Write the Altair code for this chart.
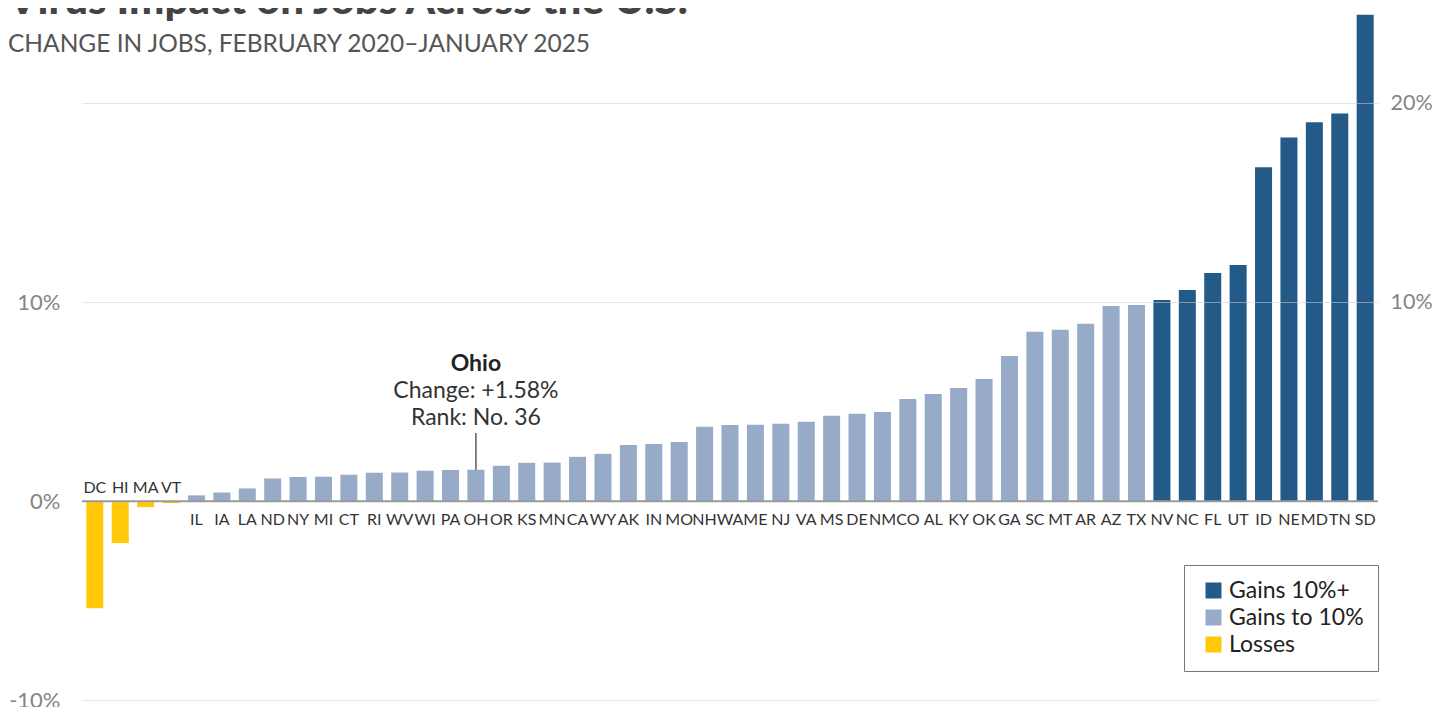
import altair as alt
import pandas as pd

# ---------------- data ----------------
states = ["DC", "HI", "MA", "VT", "IL", "IA", "LA", "ND", "NY", "MI", "CT", "RI", "WV", "WI",
          "PA", "OH", "OR", "KS", "MN", "CA", "WY", "AK", "IN", "MO", "NH", "WA", "ME", "NJ",
          "VA", "MS", "DE", "NM", "CO", "AL", "KY", "OK", "GA", "SC", "MT", "AR", "AZ", "TX",
          "NV", "NC", "FL", "UT", "ID", "NE", "MD", "TN", "SD"]
values = [-5.38, -2.11, -0.30, -0.10, 0.29, 0.44, 0.64, 1.14, 1.22, 1.23, 1.33, 1.43, 1.44, 1.53,
          1.57, 1.58, 1.78, 1.93, 1.94, 2.23, 2.38, 2.83, 2.88, 2.98, 3.74, 3.83, 3.84, 3.89,
          3.99, 4.29, 4.39, 4.49, 5.14, 5.39, 5.69, 6.14, 7.30, 8.52, 8.62, 8.92, 9.82, 9.86,
          10.12, 10.62, 11.47, 11.88, 16.79, 18.29, 19.05, 19.50, 24.46]
cat_names = ["Gains 10%+", "Gains to 10%", "Losses"]
cat_colors = ["#235a88", "#97abc8", "#ffc90a"]
left_ticks = [-10, 0, 10]
grid_ticks = [-10, 10, 20]
title_text = "Virus Impact on Jobs Across the U.S."
subtitle_text = "CHANGE IN JOBS, FEBRUARY 2020\u2013JANUARY 2025"
ann_state = "OH"
ann_name = "Ohio"

df = pd.DataFrame({"state": states, "value": values})
df["cat"] = [cat_names[2] if v < 0 else (cat_names[1] if v < 10 else cat_names[0]) for v in values]
df["rank"] = df["value"].rank(ascending=False, method="min").astype(int)
df["name"] = [ann_name if s == ann_state else "" for s in states]
df["change_txt"] = ["Change: %+.2f%%" % v for v in values]
df["rank_txt"] = ["Rank: No. %d" % r for r in df["rank"]]

FONT = "Lato, Open Sans, sans-serif"

xenc = alt.X("state:N", sort=states, axis=None,
             scale=alt.Scale(paddingInner=0.33, paddingOuter=0.17))
yscale = alt.Scale(domain=[-10, 24.5], nice=False, zero=False)

base = alt.Chart(df)

bars = base.mark_bar().encode(
    x=xenc,
    y=alt.Y("value:Q", scale=yscale, title=None,
            axis=alt.Axis(orient="left", values=left_ticks, grid=False, domain=False, ticks=False,
                          labelExpr="datum.value + '%'", labelFont=FONT, labelFontSize=22,
                          labelFontWeight="normal", labelColor="#858585", labelPadding=22)),
    color=alt.Color("cat:N", scale=alt.Scale(domain=cat_names, range=cat_colors),
                    legend=alt.Legend(orient="none", legendX=1102, legendY=551, title=None,
                                      symbolType="square", symbolSize=256, symbolStrokeWidth=0,
                                      labelFont=FONT, labelFontSize=23, labelColor="#222",
                                      padding=14, strokeColor="#777", fillColor="white",
                                      rowPadding=3, symbolOffset=4, labelOffset=4)),
)

zero_df = pd.DataFrame({"v": [0]})
baseline = alt.Chart(zero_df).mark_rule(color="#9a9a9a", strokeWidth=2).encode(
    y=alt.Y("v:Q", scale=yscale, title=None,
            axis=alt.Axis(orient="right", values=grid_ticks, grid=True, domain=False, ticks=False,
                          gridColor="#cfcfcf", gridOpacity=0.55, gridWidth=1, zindex=1,
                          labelExpr="datum.value > 0 ? datum.value + '%' : ''",
                          labelFont=FONT, labelFontSize=21.5, labelFontWeight="normal",
                          labelColor="#858585", labelPadding=12))
)

y0 = alt.Y(datum=0, scale=yscale, axis=None)
yv = alt.Y("value:Q", scale=yscale, axis=None)

pos_labels = base.transform_filter("datum.value >= 0").mark_text(
    baseline="alphabetic", dy=24, font=FONT, fontSize=16, color="#333"
).encode(x=xenc, y=y0, text="state:N")

neg_labels = base.transform_filter("datum.value < 0").mark_text(
    baseline="alphabetic", dy=-8, font=FONT, fontSize=16, color="#333"
).encode(x=xenc, y=y0, text="state:N")

ann = base.transform_filter(alt.datum.state == ann_state)
ann_rule = ann.mark_rule(color="#333", strokeWidth=1.2).encode(
    x=xenc, y=yv, y2=alt.value(419))
ann_name_t = ann.mark_text(baseline="alphabetic", dy=-99, font=FONT, fontSize=23,
                           fontWeight="bold", color="#222").encode(
    x=xenc, y=yv, text="name:N")
ann_change_t = ann.mark_text(baseline="alphabetic", dy=-72, font=FONT, fontSize=23,
                             color="#333").encode(
    x=xenc, y=yv, text="change_txt:N")
ann_rank_t = ann.mark_text(baseline="alphabetic", dy=-45, font=FONT, fontSize=23,
                           color="#333").encode(
    x=xenc, y=yv, text="rank_txt:N")

title_df = pd.DataFrame({"t": [title_text]})
sub_df = pd.DataFrame({"t": [subtitle_text]})
title_t = alt.Chart(title_df).mark_text(align="left", baseline="alphabetic", font=FONT,
                                        fontSize=42, fontWeight=900, color="#444").encode(
    x=alt.value(-74), y=alt.value(0), text="t:N")
sub_t = alt.Chart(sub_df).mark_text(align="left", baseline="alphabetic", font=FONT,
                                    fontSize=24.5, color="#555").encode(
    x=alt.value(-74), y=alt.value(38), text="t:N")

chart = alt.layer(
    bars, baseline, pos_labels, neg_labels, ann_rule, ann_name_t, ann_change_t, ann_rank_t,
    title_t, sub_t
).resolve_scale(y="shared").resolve_axis(y="independent").properties(
    width=1296, height=686,
    autosize=alt.AutoSizeParams(type="none"),
    padding={"left": 74, "top": 6, "right": 54, "bottom": 7},
).configure_view(stroke=None)

chart.save("out.html", embed_options={"renderer": "svg", "actions": False})
